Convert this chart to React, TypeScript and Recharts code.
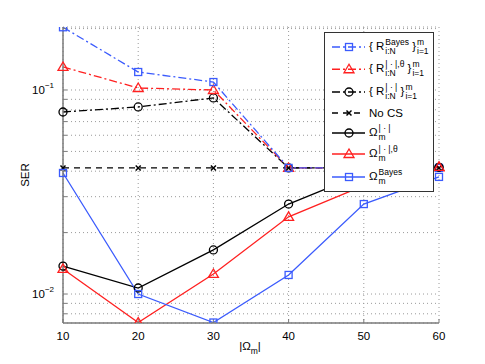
import React from 'react';
import { LineChart, Line, XAxis, YAxis, CartesianGrid } from 'recharts';

// |Omega_m| values on the x axis
const sizes = [10, 20, 30, 40, 50, 60];

// SER curves
const rBayes = [0.203, 0.1225, 0.1094, 0.0415, 0.0415, 0.0415];
const rAbsTheta = [0.1297, 0.1023, 0.1, 0.0415, 0.0415, 0.0418];
const rAbs = [0.078, 0.0826, 0.0914, 0.0415, 0.0415, 0.0418];
const noCs = [0.0415, 0.0415, 0.0415, 0.0415, 0.0415, 0.0415];
const omegaAbs = [0.0137, 0.0107, 0.01645, 0.0276, 0.039, 0.0418];
const omegaAbsTheta = [0.01327, 0.00725, 0.01254, 0.0239, 0.034, 0.042];
const omegaBayes = [0.0392, 0.01, 0.00725, 0.0124, 0.0276, 0.0375];

const xTicks = [10, 20, 30, 40, 50, 60];
const yTicks = [0.008, 0.009, 0.01, 0.02, 0.03, 0.04, 0.05, 0.06, 0.07, 0.08, 0.09, 0.1, 0.2];
const yDomain = [0.00721, 0.2036];

const BLUE = '#3b5bfd';
const RED = '#ff2020';
const BLACK = '#000';
const AXIS = '#7a7a7a';
const FONT = '"Liberation Sans", Arial, Helvetica, sans-serif';
const DASH_DOT = '8 3 2 3';

const data = sizes.map((x, i) => ({
  x,
  rBayes: rBayes[i],
  rAbsTheta: rAbsTheta[i],
  rAbs: rAbs[i],
  noCs: noCs[i],
  omegaAbs: omegaAbs[i],
  omegaAbsTheta: omegaAbsTheta[i],
  omegaBayes: omegaBayes[i],
}));

type Marker = 'square' | 'triangle' | 'circle' | 'cross';

const drawMarker = (kind: Marker, cx: number, cy: number, color: string, key?: string) => {
  if (kind === 'square')
    return <rect key={key} x={cx - 3.5} y={cy - 3.5} width={7} height={7} fill="none" stroke={color} strokeWidth={1.3} />;
  if (kind === 'triangle')
    return (
      <polygon key={key} points={`${cx},${cy - 5} ${cx - 5},${cy + 3.5} ${cx + 5},${cy + 3.5}`}
        fill="none" stroke={color} strokeWidth={1.3} />
    );
  if (kind === 'circle')
    return <circle key={key} cx={cx} cy={cy} r={4} fill="none" stroke={color} strokeWidth={1.3} />;
  return (
    <g key={key} stroke={color} strokeWidth={1.5}>
      <line x1={cx - 2.5} y1={cy - 2.5} x2={cx + 2.5} y2={cy + 2.5} />
      <line x1={cx - 2.5} y1={cy + 2.5} x2={cx + 2.5} y2={cy - 2.5} />
    </g>
  );
};

const dotFor = (name: string, kind: Marker, color: string) => (p: any) =>
  drawMarker(kind, p.cx, p.cy, color, `${name}-${p.index}`);

const YTick = (props: any) => {
  const { x, y, payload } = props;
  const v = payload.value;
  const exp = Math.round(Math.log10(v));
  if (Math.abs(v - Math.pow(10, exp)) > 1e-9) return <g />;
  return (
    <text x={x} y={y} dy={4} textAnchor="end" fontSize={11.5} fontFamily={FONT} fill="#000">
      10
      <tspan dy={-6} fontSize={8}>{'\u2212' + -exp}</tspan>
    </text>
  );
};

const Stack = ({ sup, sub }: { sup: string; sub: string }) => (
  <span style={{ display: 'inline-flex', flexDirection: 'column', verticalAlign: 'middle', fontSize: 8.5, lineHeight: '9px', marginLeft: 1 }}>
    <span style={{ whiteSpace: 'pre' }}>{sup}</span>
    <span style={{ whiteSpace: 'pre' }}>{sub}</span>
  </span>
);

const legendRows: { kind: Marker; color: string; dash?: string; h: number; label: React.ReactNode }[] = [
  { kind: 'square', color: BLUE, dash: DASH_DOT, h: 22, label: <>{'{ R'}<Stack sup="Bayes" sub="i:N" />{' }'}<Stack sup="m" sub="i=1" /></> },
  { kind: 'triangle', color: RED, dash: DASH_DOT, h: 22.5, label: <>{'{ R'}<Stack sup={'| \u00b7 |,\u03b8'} sub="i:N" />{' }'}<Stack sup="m" sub="i=1" /></> },
  { kind: 'circle', color: BLACK, dash: DASH_DOT, h: 22, label: <>{'{ R'}<Stack sup={'| \u00b7 |'} sub="i:N" />{' }'}<Stack sup="m" sub="i=1" /></> },
  { kind: 'cross', color: BLACK, dash: '6 5', h: 20, label: <>No CS</> },
  { kind: 'circle', color: BLACK, h: 20, label: <>{'\u03a9'}<Stack sup={'| \u00b7 |'} sub="m" /></> },
  { kind: 'triangle', color: RED, h: 22, label: <>{'\u03a9'}<Stack sup={'| \u00b7 |,\u03b8'} sub="m" /></> },
  { kind: 'square', color: BLUE, h: 24, label: <>{'\u03a9'}<Stack sup="Bayes" sub="m" /></> },
];

const ChartLegend = () => (
  <div style={{
    position: 'absolute', left: 324, top: 32, width: 110, height: 160, boxSizing: 'border-box',
    border: '1px solid #333', background: '#fff', paddingTop: 3, fontFamily: FONT, fontSize: 11.5, color: '#000',
  }}>
    {legendRows.map((r, i) => (
      <div key={i} style={{ display: 'flex', alignItems: 'center', height: r.h }}>
        <svg width={44} height={r.h} style={{ flex: 'none' }}>
          <line x1={7} x2={40} y1={r.h / 2} y2={r.h / 2} stroke={r.color} strokeWidth={1.3} strokeDasharray={r.dash} />
          {drawMarker(r.kind, 24, r.h / 2, r.color)}
        </svg>
        <span style={{ whiteSpace: 'nowrap' }}>{r.label}</span>
      </div>
    ))}
  </div>
);

export default function App() {
  return (
    <div style={{ position: 'absolute', left: 0, top: 0, width: 485, height: 364, background: '#fff' }}>
      <LineChart width={485} height={364} data={data} margin={{ top: 27, right: 46, bottom: 0, left: 0 }}>
        <CartesianGrid stroke="#9a9a9a" strokeDasharray="1 3" />
        <XAxis dataKey="x" type="number" domain={[10, 60]} ticks={xTicks} height={41}
          axisLine={{ stroke: AXIS, strokeWidth: 1.5 }} tickLine={{ stroke: AXIS }} tickSize={-4} tickMargin={13}
          tick={{ fontSize: 11.5, fill: '#000', fontFamily: FONT }} />
        <XAxis xAxisId="top" orientation="top" dataKey="x" type="number" domain={[10, 60]} ticks={xTicks} height={0}
          axisLine={{ stroke: AXIS, strokeWidth: 1.5 }} tickLine={{ stroke: AXIS }} tickSize={-4} tick={false} />
        <YAxis type="number" scale="log" domain={yDomain} allowDataOverflow ticks={yTicks} width={63}
          axisLine={{ stroke: AXIS, strokeWidth: 1.5 }} tickLine={{ stroke: AXIS }} tickSize={-4} tickMargin={13}
          tick={<YTick />} interval={0} />
        <YAxis yAxisId="right" orientation="right" type="number" scale="log" domain={yDomain} allowDataOverflow
          ticks={yTicks} width={0} interval={0}
          axisLine={{ stroke: AXIS, strokeWidth: 1.5 }} tickLine={{ stroke: AXIS }} tickSize={-4} tick={false} />
        <Line type="linear" dataKey="noCs" stroke={BLACK} strokeWidth={1.3} strokeDasharray="6 5"
          dot={dotFor('noCs', 'cross', BLACK)} isAnimationActive={false} />
        <Line type="linear" dataKey="rAbs" stroke={BLACK} strokeWidth={1.3} strokeDasharray={DASH_DOT}
          dot={dotFor('rAbs', 'circle', BLACK)} isAnimationActive={false} />
        <Line type="linear" dataKey="rAbsTheta" stroke={RED} strokeWidth={1.3} strokeDasharray={DASH_DOT}
          dot={dotFor('rAbsTheta', 'triangle', RED)} isAnimationActive={false} />
        <Line type="linear" dataKey="rBayes" stroke={BLUE} strokeWidth={1.3} strokeDasharray={DASH_DOT}
          dot={dotFor('rBayes', 'square', BLUE)} isAnimationActive={false} />
        <Line type="linear" dataKey="omegaAbs" stroke={BLACK} strokeWidth={1.3}
          dot={dotFor('omegaAbs', 'circle', BLACK)} isAnimationActive={false} />
        <Line type="linear" dataKey="omegaAbsTheta" stroke={RED} strokeWidth={1.3}
          dot={dotFor('omegaAbsTheta', 'triangle', RED)} isAnimationActive={false} />
        <Line type="linear" dataKey="omegaBayes" stroke={BLUE} strokeWidth={1.3}
          dot={dotFor('omegaBayes', 'square', BLUE)} isAnimationActive={false} />
      </LineChart>
      <div style={{
        position: 'absolute', left: 25, top: 175, transform: 'translate(-50%, -50%) rotate(-90deg)',
        fontFamily: FONT, fontSize: 11.5, color: '#000',
      }}>SER</div>
      <div style={{
        position: 'absolute', left: 250, top: 348, transform: 'translate(-50%, -50%)',
        fontFamily: FONT, fontSize: 11.5, color: '#000', whiteSpace: 'nowrap',
      }}>|{'\u03a9'}<sub style={{ fontSize: 8.5 }}>m</sub>|</div>
      <ChartLegend />
    </div>
  );
}
